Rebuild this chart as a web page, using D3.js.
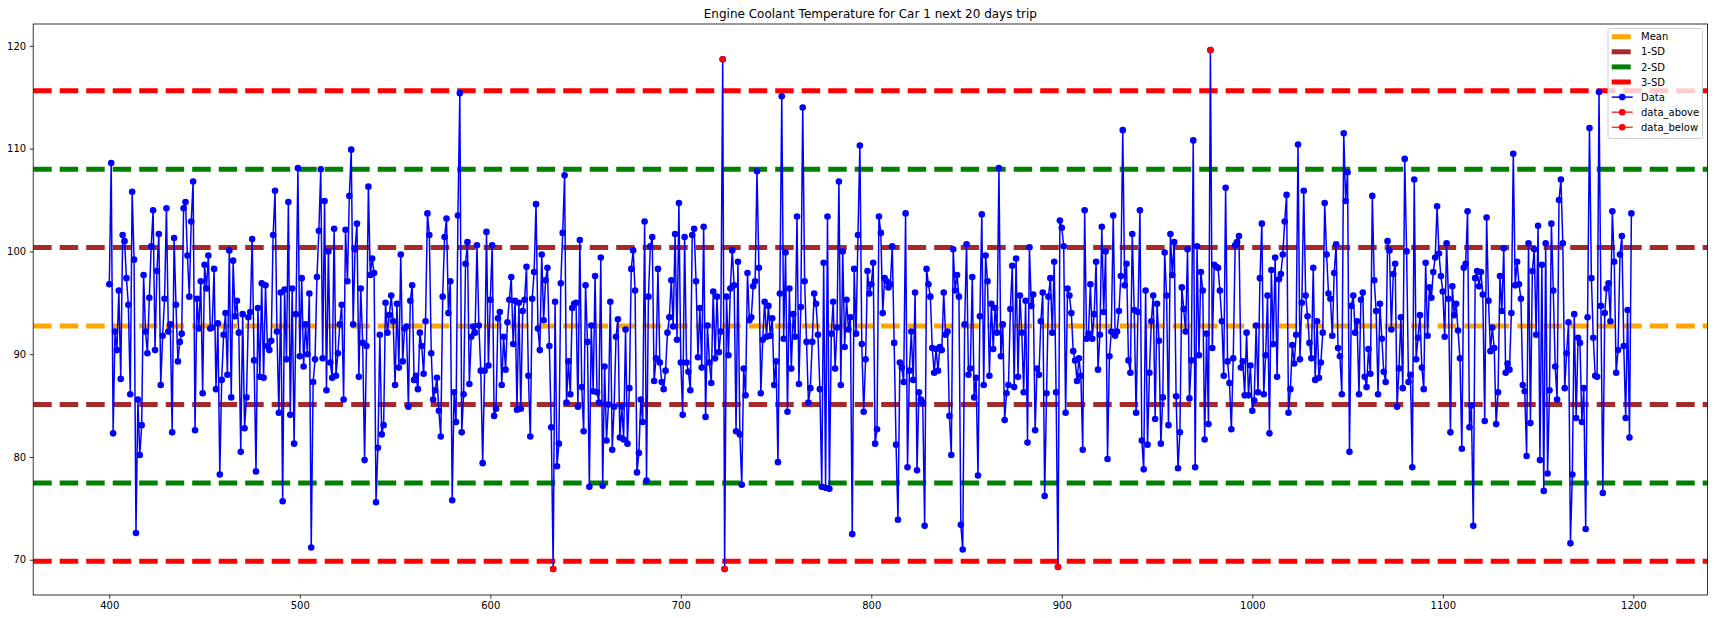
<!DOCTYPE html>
<html><head><meta charset="utf-8">
<script src="https://cdn.jsdelivr.net/npm/d3@7"></script>
<style>body{margin:0;background:#fff} svg text{font-family:"DejaVu Sans",sans-serif}</style>
</head><body><svg id="c" width="1717" height="618"></svg>
<script>
// ---- data ----
const xStart = 400;
const temps = [
96.8,108.6,82.3,92.2,90.4,96.2,87.6,101.6,101.0,97.4,
94.8,86.1,105.8,99.2,72.6,85.6,80.2,83.1,97.7,92.2,
90.1,95.5,100.5,104.0,90.4,98.1,101.7,87.0,91.8,95.4,
104.2,92.2,92.9,82.4,101.3,94.8,89.3,91.2,92.0,104.2,
104.8,99.6,95.6,102.9,106.8,82.6,95.4,92.5,97.1,86.2,
98.7,96.4,99.6,92.5,92.6,98.3,86.6,93.0,78.3,87.5,
91.9,94.0,88.0,100.1,85.8,99.1,93.7,95.2,92.1,80.5,
93.9,82.8,85.8,93.6,94.1,101.2,89.4,78.6,94.5,87.8,
96.9,87.7,96.7,90.8,90.4,91.3,101.6,105.9,92.2,84.3,
96.0,75.7,96.3,89.5,104.8,84.1,96.4,81.3,93.9,108.1,
89.8,97.4,88.8,92.9,90.0,95.9,71.2,87.3,89.5,97.5,
102.0,108.0,89.6,104.9,86.5,100.0,89.2,87.7,102.2,87.9,
90.1,92.9,94.8,85.6,102.1,97.1,105.4,109.9,92.9,100.2,
102.7,87.8,96.4,91.1,79.7,90.8,106.3,97.7,99.3,97.9,
75.6,80.9,91.9,82.2,83.1,95.0,92.1,93.8,95.7,93.2,
87.0,94.9,88.7,99.7,89.3,92.5,92.7,84.9,95.2,96.7,
87.5,87.9,86.6,92.1,90.8,88.1,93.2,103.7,101.6,90.1,
85.6,86.5,87.7,84.5,82.0,95.6,101.4,103.2,94.0,97.1,
75.8,86.3,83.4,103.5,115.4,82.4,86.1,98.8,100.9,87.1,
91.7,92.7,92.1,100.6,92.8,88.4,79.4,88.4,101.9,88.9,
95.3,100.6,84.0,84.7,93.5,94.1,87.0,91.7,88.5,93.1,
95.3,97.5,91.0,95.2,84.6,95.0,84.7,94.2,95.3,98.5,
87.9,82.0,95.4,98.0,104.6,92.5,90.4,99.7,93.3,97.2,
98.4,90.8,82.9,69.1,95.1,79.1,81.3,96.9,101.8,107.4,
85.3,89.3,86.1,94.5,94.9,95.0,84.9,101.1,86.8,82.5,
96.7,91.2,77.1,92.8,86.4,97.6,86.3,85.3,99.4,77.2,
88.8,81.6,85.1,95.1,80.7,84.9,91.7,93.4,81.9,84.9,
81.7,92.4,81.3,86.7,98.3,100.1,96.2,78.5,80.4,85.6,
83.4,102.9,77.7,95.6,100.5,101.4,87.4,89.6,98.3,89.2,
87.3,86.6,88.4,92.1,93.6,97.2,92.7,101.7,91.4,104.7,
89.2,84.1,101.4,89.2,88.3,86.5,101.6,102.2,97.1,89.7,
94.5,88.7,102.4,83.9,92.8,89.2,87.2,96.1,89.6,95.6,
90.2,92.2,118.7,69.1,95.6,89.9,96.4,100.1,96.7,82.5,
99.0,82.2,77.3,88.6,86.0,97.9,93.3,93.6,96.6,97.1,
107.8,98.4,86.2,91.4,95.1,91.7,94.7,91.8,93.5,87.0,
89.3,79.5,95.9,115.1,91.5,99.9,84.4,96.4,88.6,93.9,
91.7,103.4,87.1,94.6,114.0,97.1,91.2,85.3,86.7,91.2,
95.9,94.9,91.9,86.6,77.1,98.9,77.0,103.4,76.9,92.0,
95.1,88.6,92.6,106.8,87.0,100.0,90.7,95.3,92.4,93.6,
72.5,98.3,92.0,101.6,110.3,91.0,84.4,89.5,98.1,95.9,
96.8,98.9,81.3,82.7,103.4,101.8,94.0,97.4,97.1,96.5,
96.8,100.5,91.1,81.2,73.9,89.2,88.7,87.3,103.7,79.0,
88.4,92.2,87.5,96.0,78.7,86.3,85.6,85.3,73.3,98.3,
96.8,95.6,90.6,88.2,90.5,88.4,90.7,90.4,96.0,91.9,
92.2,84.0,80.2,100.2,96.2,97.7,95.6,73.4,71.0,92.9,
100.7,88.0,88.6,97.5,85.8,87.7,78.2,93.7,103.6,87.0,
99.6,97.1,87.9,94.9,90.5,94.5,92.1,108.1,89.8,92.9,
83.6,86.2,87.0,94.4,98.6,86.8,99.3,87.8,95.7,92.1,
86.3,95.2,81.4,100.4,94.7,95.8,82.6,88.6,88.0,93.2,
96.0,76.2,86.2,95.6,97.4,92.1,99.0,86.3,69.3,103.0,
102.3,100.5,84.3,96.4,95.7,94.0,90.3,89.4,87.4,89.6,
87.9,80.7,104.0,91.5,92.0,96.8,91.5,93.9,99.0,88.5,
91.9,102.4,94.1,100.0,79.8,89.8,92.2,103.5,91.8,92.2,
94.2,97.6,111.8,96.7,98.8,89.4,88.2,101.7,94.3,84.3,
94.1,104.0,81.6,78.8,96.2,81.2,88.2,93.2,95.7,83.7,
94.9,91.3,81.3,85.8,99.9,95.7,83.1,101.7,97.7,100.9,
85.9,78.9,82.4,96.5,94.4,92.2,100.2,85.7,89.4,110.8,
79.0,100.5,89.9,98.0,96.2,81.7,92.0,83.2,119.6,90.6,
98.7,98.5,98.4,96.2,93.2,87.9,106.2,89.3,87.2,82.7,
89.6,100.6,100.9,101.5,88.7,89.3,86.0,92.1,86.0,88.9,
84.5,85.5,92.8,86.3,97.4,102.7,86.1,89.9,95.7,82.3,
98.2,91.0,99.4,87.8,97.3,97.8,99.7,102.9,105.5,84.3,
86.6,90.9,89.1,91.9,110.4,89.5,95.0,105.9,95.7,93.7,
91.1,89.6,98.4,87.5,93.2,87.7,89.2,92.1,104.7,99.7,
95.9,95.4,91.8,97.9,100.7,90.6,89.8,86.1,111.5,104.9,
107.7,80.5,94.7,95.7,92.1,93.2,86.1,95.3,96.0,87.8,
86.8,90.5,88.1,105.4,97.2,94.2,86.1,94.9,91.5,88.3,
87.3,101.0,100.1,92.4,97.8,98.8,84.9,88.6,93.6,86.7,
109.0,100.0,87.3,88.0,79.0,107.0,89.5,91.6,93.8,88.7,
86.6,98.9,91.8,96.5,95.5,98.0,99.4,104.4,99.8,97.6,
96.1,91.7,100.8,95.4,82.4,96.6,93.8,94.9,92.3,89.6,
80.8,98.4,98.8,103.9,82.9,85.0,73.3,97.4,98.1,96.6,
98.0,95.8,83.5,103.3,95.2,90.3,92.6,90.6,83.2,86.3,
97.6,94.2,100.3,88.2,89.1,88.5,94.0,109.5,96.7,99.0,
96.8,95.4,87.0,86.4,80.1,100.8,83.3,98.1,100.2,91.9,
102.5,79.7,98.7,76.7,100.8,78.4,86.5,102.7,96.2,88.8,
85.6,105.0,107.0,100.8,86.7,90.1,93.1,71.6,78.3,93.9,
83.8,91.6,91.1,83.4,86.7,73.0,93.6,112.0,97.4,91.6,
87.9,87.8,115.5,94.7,76.5,94.0,96.4,96.9,93.2,103.9,
99.0,88.2,90.4,99.7,101.5,90.8,83.8,94.3,81.9,103.7
];
const meanLine = [92.74];
const sd1Lines = [100.37, 85.11];
const sd2Lines = [108.00, 77.48];
const sd3Lines = [115.63, 69.85];
const xTicks = [400, 500, 600, 700, 800, 900, 1000, 1100, 1200];
const yTicks = [70, 80, 90, 100, 110, 120];
const titleText = "Engine Coolant Temperature for Car 1 next 20 days trip";
const legendLabels = ["Mean", "1-SD", "2-SD", "3-SD", "Data", "data_above", "data_below"];

// ---- chart ----
const svg = d3.select("#c");
const L = 33.2, R = 1707.5, T = 24, B = 595;
const pts = temps.map((v, i) => ({x: xStart + i, y: v}));
const above = pts.filter(p => p.y > sd3Lines[0]);
const below = pts.filter(p => p.y < sd3Lines[1]);
const xExt = d3.extent(pts, p => p.x), yExt = d3.extent(pts, p => p.y);
const xm = (xExt[1] - xExt[0]) * 0.05, ym = (yExt[1] - yExt[0]) * 0.05;
const x = d3.scaleLinear().domain([xExt[0] - xm, xExt[1] + xm]).range([L, R]);
const y = d3.scaleLinear().domain([yExt[0] - ym, yExt[1] + ym]).range([B, T]);

svg.append("defs").append("clipPath").attr("id", "clip")
  .append("rect").attr("x", L).attr("y", T).attr("width", R - L).attr("height", B - T);

const lineGroups = [
  {vals: meanLine, color: "#ffa500"},
  {vals: sd1Lines, color: "#a52a2a"},
  {vals: sd2Lines, color: "#008000"},
  {vals: sd3Lines, color: "#ff0000"}
];
const gLines = svg.append("g").attr("clip-path", "url(#clip)");
lineGroups.forEach(g => {
  g.vals.forEach(v => {
    gLines.append("line").attr("x1", L).attr("x2", R).attr("y1", y(v)).attr("y2", y(v))
      .attr("stroke", g.color).attr("stroke-width", 5).attr("stroke-dasharray", "18.5,8");
  });
});

const gData = svg.append("g").attr("clip-path", "url(#clip)");
gData.append("path").datum(pts)
  .attr("d", d3.line().x(p => x(p.x)).y(p => y(p.y)))
  .attr("fill", "none").attr("stroke", "#0000ff").attr("stroke-width", 1.5)
  .attr("stroke-linejoin", "round");
gData.selectAll("circle.d").data(pts).join("circle").attr("class", "d")
  .attr("cx", p => x(p.x)).attr("cy", p => y(p.y)).attr("r", 3.3).attr("fill", "#0000ff");
gData.selectAll("circle.r").data(above.concat(below)).join("circle").attr("class", "r")
  .attr("cx", p => x(p.x)).attr("cy", p => y(p.y)).attr("r", 3.3).attr("fill", "#ff0000");

// axes
const xAxis = svg.append("g").attr("transform", `translate(0,${B})`)
  .call(d3.axisBottom(x).tickValues(xTicks).tickSize(3.5).tickPadding(3.5).tickFormat(d3.format("d")));
const yAxis = svg.append("g").attr("transform", `translate(${L},0)`)
  .call(d3.axisLeft(y).tickValues(yTicks).tickSize(3.5).tickPadding(3.5).tickFormat(d3.format("d")));
[xAxis, yAxis].forEach(a => {
  a.select(".domain").remove();
  a.selectAll("text").attr("font-size", 10).attr("fill", "#000").attr("font-family", "DejaVu Sans");
  a.selectAll("line").attr("stroke", "#000").attr("stroke-width", 0.8);
});
svg.append("rect").attr("x", L).attr("y", T).attr("width", R - L).attr("height", B - T)
  .attr("fill", "none").attr("stroke", "#000").attr("stroke-width", 0.8);

svg.append("text").attr("x", (L + R) / 2).attr("y", 17.5).attr("text-anchor", "middle")
  .attr("font-size", 12).text(titleText);

// legend
const lg = svg.append("g");
const lx = 1608, ly = 28.5, lw = 94.5, lh = 110;
lg.append("rect").attr("x", lx).attr("y", ly).attr("width", lw).attr("height", lh).attr("rx", 2)
  .attr("fill", "#fff").attr("fill-opacity", 0.8).attr("stroke", "#cccccc").attr("stroke-width", 1);
const legendColors = ["#ffa500", "#a52a2a", "#008000", "#ff0000", "#0000ff", "#ff0000", "#ff0000"];
legendLabels.forEach((lab, i) => {
  const cy = 36.7 + i * 15.1;
  if (i < 4) {
    lg.append("line").attr("x1", 1611.7).attr("x2", 1630.7).attr("y1", cy).attr("y2", cy)
      .attr("stroke", legendColors[i]).attr("stroke-width", 5);
  } else {
    lg.append("line").attr("x1", 1611.7).attr("x2", 1632.7).attr("y1", cy).attr("y2", cy)
      .attr("stroke", legendColors[i]).attr("stroke-width", 1.5).attr("stroke-opacity", i > 4 ? 0.8 : 1);
    lg.append("circle").attr("cx", 1622.2).attr("cy", cy).attr("r", 3.3).attr("fill", legendColors[i]);
  }
  lg.append("text").attr("x", 1641).attr("y", cy + 3.6).attr("font-size", 10).text(lab);
});
</script></body></html>
